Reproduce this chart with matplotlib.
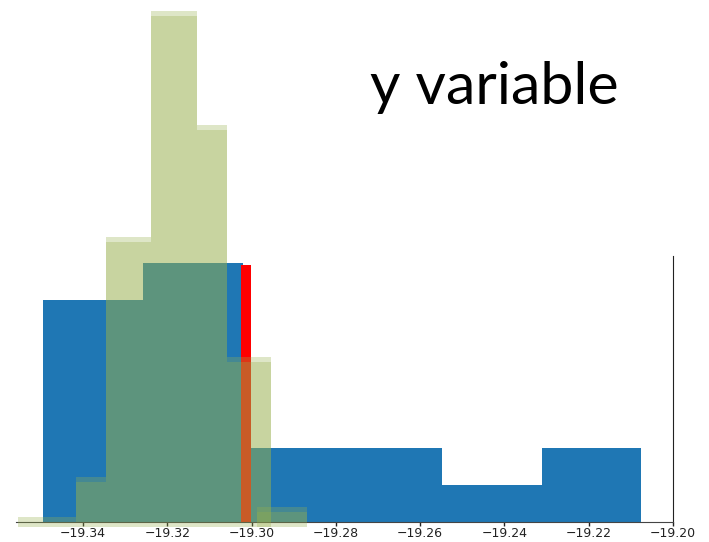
import matplotlib
matplotlib.use("Agg")
import matplotlib.pyplot as plt
import numpy as np

# blue histogram: bin edges and counts
blue_edges = [-19.3495, -19.3258, -19.3021, -19.2785, -19.2548, -19.2311, -19.2075]
blue_counts = [6, 7, 2, 2, 1, 2]

# red marker bar
red_left = -19.3026
red_right = -19.3002
red_height = 6.95

# green histogram: left edges, right edges, heights
green_left = [-19.3554, -19.3417, -19.3346, -19.3239, -19.3130, -19.3059, -19.2988]
green_right = [-19.3417, -19.3346, -19.3239, -19.3130, -19.3059, -19.2953, -19.2868]
green_height = [0.13, 1.21, 7.69, 13.78, 10.72, 4.45, 0.40]

xticks = [-19.34, -19.32, -19.30, -19.28, -19.26, -19.24, -19.22, -19.20]

fig = plt.figure(figsize=(7.09, 5.42), dpi=100)
ax = fig.add_axes([0.0226, 0.0369, 0.9266, 0.4908])

ax.bar(blue_edges[:-1], blue_counts, width=np.diff(blue_edges), align='edge',
       color='#1f77b4', linewidth=0, zorder=1)
ax.bar([red_left], [red_height], width=red_right - red_left, align='edge',
       color='red', linewidth=0, zorder=2)

gl = np.array(green_left)
gw = np.array(green_right) - gl
gh = np.array(green_height)
# two slightly offset passes give the soft top/bottom band
for off in (0.0, -0.13):
    ax.bar(gl, gh, width=gw, bottom=off, align='edge', color='#97af4c',
           alpha=0.31, linewidth=0, zorder=3, clip_on=False)

ax.set_xlim(-19.3559, -19.20)
ax.set_ylim(0, 7.18)
ax.set_xticks(xticks)
ax.set_xticklabels(['\u221219.34', '\u221219.32', '\u221219.30', '\u221219.28',
                    '\u221219.26', '\u221219.24', '\u221219.22', '\u221219.20'])
ax.set_yticks([])
ax.tick_params(axis='x', length=3, width=1, pad=0.5, labelsize=9, colors='#222222')
ax.spines['top'].set_visible(False)
ax.spines['left'].set_visible(False)
ax.spines['bottom'].set_color('#444444')
ax.spines['right'].set_color('#222222')
ax.patch.set_alpha(0)

fig.text(0.522, 0.808, 'y variable', family='Lato', fontsize=42.5, va='baseline', ha='left')

fig.savefig('out.png', dpi=100)
plt.close(fig)
